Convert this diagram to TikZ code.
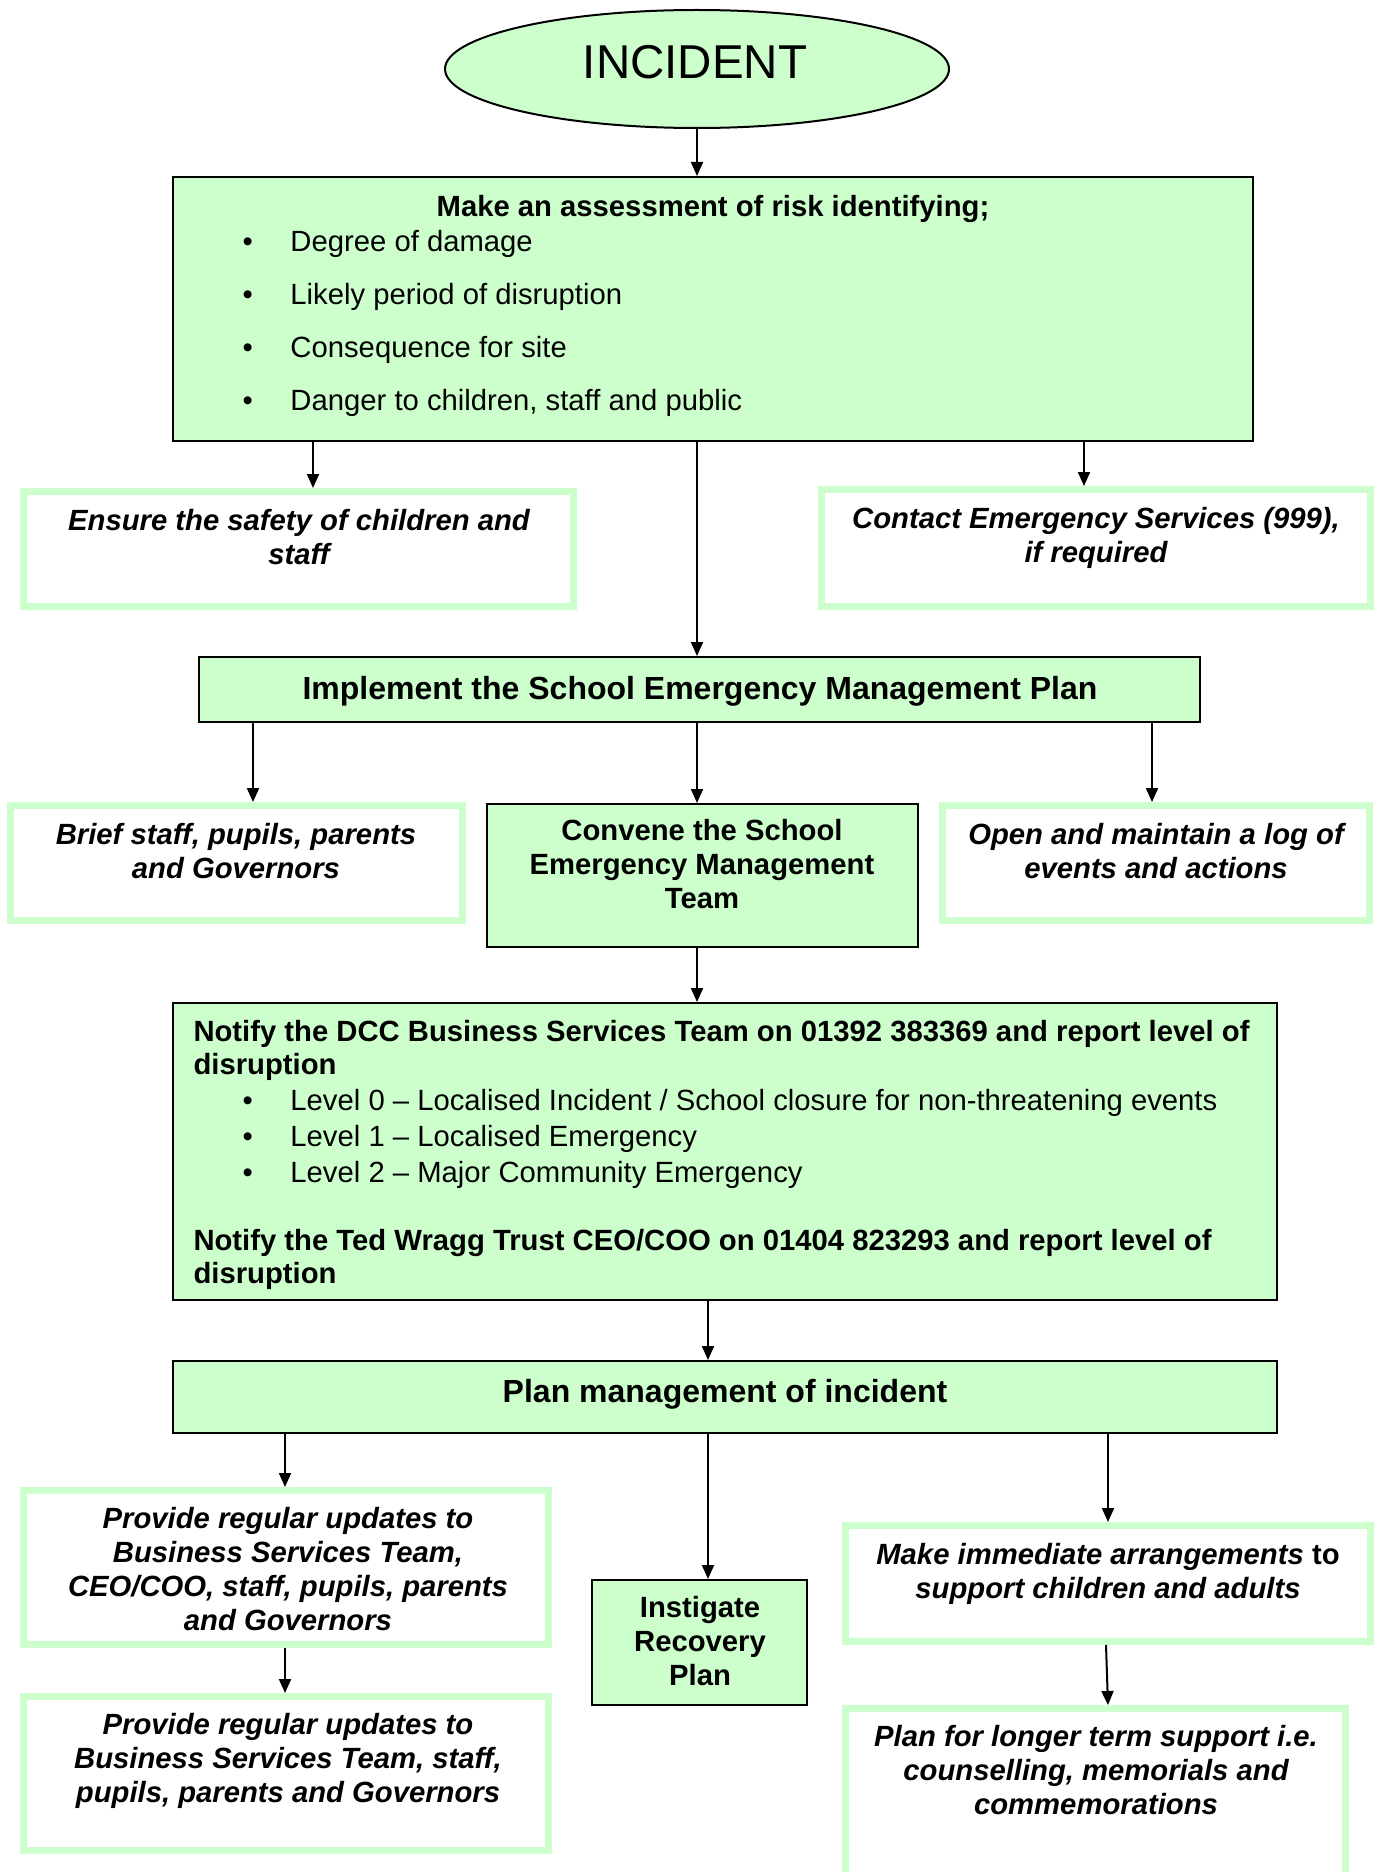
\documentclass[tikz,border=0pt]{standalone}
\usepackage{fontspec}
\setmainfont{Liberation Sans}
\usetikzlibrary{shapes.geometric,arrows.meta,fit}
\definecolor{gfill}{HTML}{CCFFCC}
\begin{document}
\begin{tikzpicture}[x=0.4pt,y=-0.4pt,
  thinbox/.style={draw=black, line width=0.8pt, fill=gfill, inner sep=0pt, rectangle},
  gbox/.style={draw=gfill, line width=2.8pt, fill=white, inner sep=0pt, rectangle},
  arr/.style={-{Triangle[width=4.8pt,length=5.6pt]}, line width=0.8pt},
  txt/.style={font=\fontsize{11.7}{13.6}\selectfont, align=center, inner sep=0pt, anchor=base},
  btxt/.style={txt, font=\fontsize{11.7}{13.6}\selectfont\bfseries},
  itxt/.style={txt, font=\fontsize{11.7}{13.6}\selectfont\bfseries\itshape},
  ttl/.style={txt, font=\fontsize{12.8}{15}\selectfont\bfseries},
  bul/.style={font=\fontsize{11.7}{13.6}\selectfont, align=left, inner sep=0pt, anchor=base west},
]
\useasboundingbox (0,0) rectangle (1378,1872);

% ---------- boxes ----------
\node[ellipse, draw=black, line width=0.8pt, fill=gfill, inner sep=0pt,
      minimum width=201.6pt, minimum height=47.2pt] (incident) at (697,69) {};
\node[thinbox, fit={(173,177)(1253,441)}] (box1) {};
\node[gbox, fit={(23.5,491.5)(573.5,606.5)}] (ensure) {};
\node[gbox, fit={(821.5,489.5)(1370.5,606.5)}] (contact) {};
\node[thinbox, fit={(199,657)(1200,722)}] (implement) {};
\node[gbox, fit={(10.5,805.5)(462.5,920.5)}] (brief) {};
\node[thinbox, fit={(487,804)(918,947)}] (convene) {};
\node[gbox, fit={(942.5,805.5)(1369.5,920.5)}] (open) {};
\node[thinbox, fit={(173,1003)(1277,1300)}] (notify) {};
\node[thinbox, fit={(173,1361)(1277,1433)}] (plan) {};
\node[gbox, fit={(23.5,1490.5)(548.5,1644.5)}] (prov1) {};
\node[gbox, fit={(23.5,1696.5)(548.5,1850.5)}] (prov2) {};
\node[thinbox, fit={(592,1580)(807,1705)}] (instig) {};
\node[gbox, fit={(845.5,1525.5)(1370.5,1641.5)}] (make) {};
\node[gbox, fit={(845.5,1708.5)(1345.5,1895)}] (longer) {};

% ---------- texts (base anchor = baseline of last line) ----------
\node[txt, font=\fontsize{19}{22}\selectfont] (inctext) at (695,79) {INCIDENT};
\node[btxt] (t-box1) at (713,216) {Make an assessment of risk identifying;};
\node[bul] (t-box1b) at (242,410) {\makebox[19.2pt][l]{\textbullet}Degree of damage\\[7.6pt]
  \makebox[19.2pt][l]{\textbullet}Likely period of disruption\\[7.6pt]
  \makebox[19.2pt][l]{\textbullet}Consequence for site\\[7.6pt]
  \makebox[19.2pt][l]{\textbullet}Danger to children, staff and public};
\node[itxt] (t-ensure) at (299,564) {Ensure the safety of children and\\staff};
\node[itxt] (t-contact) at (1096,562) {Contact Emergency Services (999),\\if required};
\node[ttl] (t-impl) at (700,699) {Implement the School Emergency Management Plan};
\node[itxt] (t-brief) at (236,878) {Brief staff, pupils, parents\\and Governors};
\node[btxt] (t-convene) at (702,908) {Convene the School\\Emergency Management\\Team};
\node[itxt] (t-open) at (1156,878) {Open and maintain a log of\\events and actions};
\node[bul, font=\fontsize{11.7}{13.2}\selectfont\bfseries] (t-notA) at (193,1074)
  {Notify the DCC Business Services Team on 01392 383369 and report level of\\disruption};
\node[bul, font=\fontsize{11.7}{14.4}\selectfont] (t-notB) at (242,1182)
  {\makebox[19.2pt][l]{\textbullet}Level 0 – Localised Incident / School closure for non-threatening events\\
   \makebox[19.2pt][l]{\textbullet}Level 1 – Localised Emergency\\
   \makebox[19.2pt][l]{\textbullet}Level 2 – Major Community Emergency};
\node[bul, font=\fontsize{11.7}{13.2}\selectfont\bfseries] (t-notC) at (193,1283)
  {Notify the Ted Wragg Trust CEO/COO on 01404 823293 and report level of\\disruption};
\node[ttl] (t-plan) at (725,1402) {Plan management of incident};
\node[itxt] (t-prov1) at (288,1630) {Provide regular updates to\\Business Services Team,\\CEO/COO, staff, pupils, parents\\and Governors};
\node[itxt] (t-prov2) at (288,1802) {Provide regular updates to\\Business Services Team, staff,\\pupils, parents and Governors};
\node[btxt] (t-instig) at (700,1685) {Instigate\\Recovery\\Plan};
\node[itxt] (t-make) at (1108,1598) {Make immediate arrangements \textup{to}\\support children and adults};
\node[itxt] (t-longer) at (1096,1814) {Plan for longer term support i.e.\\counselling, memorials and\\commemorations};

% ---------- arrow columns ----------
\coordinate (cA) at (697,0);
\coordinate (cB) at (313,0);
\coordinate (cC) at (1084,0);
\coordinate (cD) at (253,0);
\coordinate (cE) at (1152,0);
\coordinate (cF) at (708,0);
\coordinate (cG) at (285,0);
\coordinate (cH) at (1108,0);
\coordinate (cI) at (1106,0);

% ---------- connectors ----------
\draw[arr] (incident.south) -- (incident.south |- box1.north);
\draw[arr] (box1.south -| cA) -- (implement.north -| cA);
\draw[arr] (box1.south -| cB) -- (ensure.north -| cB);
\draw[arr] (box1.south -| cC) -- (contact.north -| cC);
\draw[arr] (implement.south -| cD) -- (brief.north -| cD);
\draw[arr] (implement.south -| cA) -- (convene.north -| cA);
\draw[arr] (implement.south -| cE) -- (open.north -| cE);
\draw[arr] (convene.south -| cA) -- (notify.north -| cA);
\draw[arr] (notify.south -| cF) -- (plan.north -| cF);
\draw[arr] (plan.south -| cG) -- (prov1.north -| cG);
\draw[arr] (plan.south -| cF) -- (instig.north -| cF);
\draw[arr] (plan.south -| cH) -- (make.north -| cH);
\draw[arr] (prov1.south -| cG) -- (prov2.north -| cG);
\draw[arr] (make.south -| cI) -- (longer.north -| cH);
\end{tikzpicture}
\end{document}
